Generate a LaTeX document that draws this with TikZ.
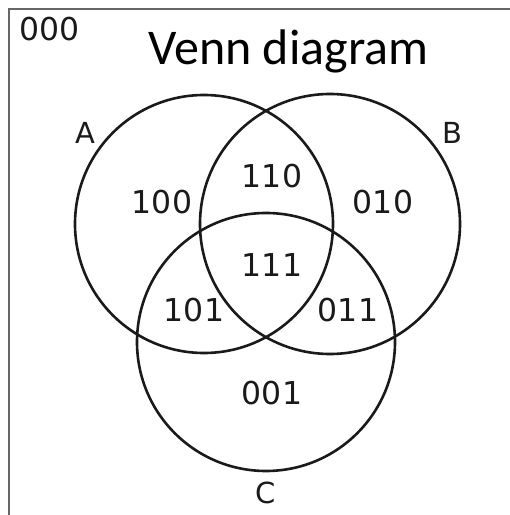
\documentclass[tikz,border=0pt]{standalone}
\usepackage{fontspec}
\usetikzlibrary{positioning}
\newfontfamily\dvsans{DejaVu Sans}
\newfontfamily\carlito{Carlito}
\definecolor{ink}{HTML}{1A1A1A}
\definecolor{rulegray}{HTML}{666666}
\tikzset{
  setcircle/.style={circle, draw=ink, line width=2.6pt, minimum size=#1, inner sep=0pt},
  region/.style={font=\dvsans\fontsize{31.5}{36}\selectfont, text=ink, inner sep=0pt},
  setname/.style={font=\dvsans\fontsize{29}{34}\selectfont, text=ink, inner sep=0pt},
  titletext/.style={font=\carlito\fontsize{50}{60}\selectfont, inner sep=0pt},
  border/.style={draw=rulegray, line width=2pt}
}

\begin{document}
\begin{tikzpicture}[x=1pt,y=1pt]
  \useasboundingbox (0,0) rectangle (510,515);
  \draw[border] (9,0) -- (9,506) -- (510,506);

  % the three sets
  \node[setcircle=258pt] (A) at (204,291) {};
  \node[setcircle=260pt] (B) at (330,291) {};
  \node[setcircle=258pt] (C) at (266,173) {};

  \node[titletext, anchor=base] (title) at (288.5,450) {Venn diagram};
  \node[region] (r000) at (49.5,486) {000};

  \foreach \x/\y/\t in {162/313/100, 272/338.5/110, 383/312.5/010, 272/250/111,
                        194/205/101, 348/205/011, 272/121.5/001} {
    \node[region] (r\t) at (\x,\y) {\t};
  }

  \node[setname] (nA) at (85,382.5) {A};
  \node[setname] (nB) at (452,382.5) {B};
  \node[setname] (nC) at (266,22.5) {C};
\end{tikzpicture}
\end{document}
